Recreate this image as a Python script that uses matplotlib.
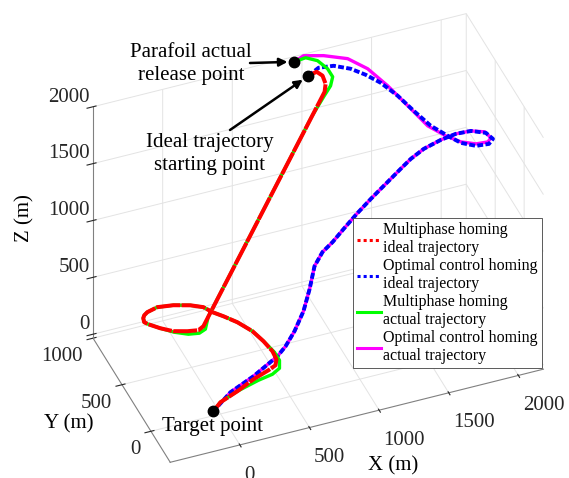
import numpy as np
import matplotlib
matplotlib.use('Agg')
import matplotlib.pyplot as plt
from mpl_toolkits.mplot3d import proj3d
from matplotlib.lines import Line2D

plt.rcParams['font.family'] = ['Liberation Serif', 'DejaVu Serif']
plt.rcParams['grid.color'] = '#e3e3e3'
plt.rcParams['grid.linewidth'] = 0.7

# ---------------- data (m) ----------------
red_x = [959, 1027, 1052, 1044, 1013, 85, 43, -23, -103, -166, -219, -234, -222, -202, -169,
         -82, 33, 146, 226, 268, 326, 396, 463, 499, 522, 520, 493, 434, 310, 169, 25, -50]
red_y = [788, 812, 769, 697, 639, 501, 486, 518, 569, 644, 724, 756, 802, 832, 859,
         896, 895, 874, 841, 785, 734, 662, 563, 459, 360, 285, 238, 216, 177, 116, 63, 4]
red_z = [2000, 1995, 1988, 1978, 1965, 300, 290, 275, 258, 242, 228, 224, 218, 213, 208,
         195, 178, 160, 146, 135, 123, 108, 90, 76, 62, 53, 47, 40, 30, 18, 8, 0]

green_x = [926, 1013, 1079, 1116, 1123, 1083, 1009, 917, 122, 86, 38, -28, -101, -166, -219,
           -234, -222, -202, -169, -82, 33, 146, 226, 268, 326, 396, 463, 499, 531, 535, 507,
           443, 336, 169, 25, -50]
green_y = [951, 968, 920, 835, 765, 705, 647, 625, 507, 469, 458, 489, 557, 644, 724,
           756, 802, 832, 859, 896, 895, 874, 841, 785, 734, 662, 563, 459, 346, 269, 202,
           170, 155, 116, 63, 4]
green_z = [2000, 1995, 1988, 1975, 1960, 1942, 1915, 1793, 367, 300, 288, 274, 258, 242, 228,
           224, 218, 213, 208, 195, 178, 160, 146, 135, 123, 108, 90, 76, 62, 53, 46,
           39, 31, 18, 8, 0]

blue_x = [959, 1057, 1165, 1268, 1349, 1425, 1498, 1559, 1629, 1716, 1783, 1878, 1978, 2031,
          2019, 1942, 1846, 1740, 1615, 1511, 1425, 1342, 1258, 1177, 1060, 952, 862, 787,
          718, 660, 607, 553, 505, 460, 282, 107, -50]
blue_y = [788, 850, 849, 803, 739, 661, 543, 414, 288, 203, 139, 108, 122, 181,
          274, 348, 377, 382, 375, 349, 317, 289, 261, 238, 200, 165, 138, 132,
          104, 50, 28, 53, 92, 124, 110, 88, 4]
blue_z = [2000, 1990, 1975, 1955, 1930, 1900, 1860, 1815, 1765, 1720, 1690, 1660, 1635, 1615,
          1595, 1575, 1555, 1530, 1495, 1460, 1425, 1385, 1345, 1300, 1235, 1165, 1100, 1040,
          960, 820, 660, 480, 330, 230, 120, 50, 0]

mag_x = [926, 1007, 1136, 1281, 1377, 1452, 1522, 1599, 1699, 1787, 1886, 1979, 2022, 2017,
         1942, 1846, 1740, 1615, 1511, 1425, 1342, 1258, 1177, 1060, 952, 862, 787, 718,
         660, 607, 553, 505, 460, 282, 107, -50]
mag_y = [951, 989, 953, 886, 771, 607, 427, 268, 196, 148, 126, 143, 195, 286,
         348, 377, 382, 375, 349, 317, 289, 261, 238, 200, 165, 138, 132, 104,
         50, 28, 53, 92, 124, 110, 88, 4]
mag_z = [2000, 1997, 1988, 1972, 1948, 1910, 1860, 1790, 1730, 1690, 1660, 1635, 1615, 1595,
         1575, 1555, 1530, 1495, 1460, 1425, 1385, 1345, 1300, 1235, 1165, 1100, 1040, 960,
         820, 660, 480, 330, 230, 120, 50, 0]

release_pt = (926, 951, 2000)
ideal_start_pt = (959, 788, 2000)
target_pt = (-50, 4, 0)

xticks = [0, 500, 1000, 1500, 2000]
yticks = [0, 500, 1000]
zticks = [0, 500, 1000, 1500, 2000]
xlim = (-500, 2180)
ylim = (-333, 1000)
zlim = (-35, 2000)

legend_labels = ['Multiphase homing\nideal trajectory',
                 'Optimal control homing\nideal trajectory',
                 'Multiphase homing\nactual trajectory',
                 'Optimal control homing\nactual trajectory']

# ---------------- figure ----------------
W, H = 569, 478
fig = plt.figure(figsize=(W / 100, H / 100), dpi=100)
ax = fig.add_axes([0.1, 0.1, 0.6, 0.6 * W / H], projection='3d')
ax.set_proj_type('ortho')
ax.view_init(elev=39.3, azim=-111.5)
ax.set_xlim(xlim); ax.set_ylim(ylim); ax.set_zlim(zlim)
ax.set_box_aspect(((xlim[1] - xlim[0]) * 0.1494,
                   (ylim[1] - ylim[0]) * 0.1577,
                   (zlim[1] - zlim[0]) * 0.1467))
ax.computed_zorder = False

for axis in (ax.xaxis, ax.yaxis, ax.zaxis):
    axis.set_pane_color((1, 1, 1, 0))
    axis.pane.set_edgecolor('#e3e3e3')
    axis.line.set_color('#808080')
    axis.line.set_linewidth(0.8)
ax.set_xticks(xticks); ax.set_yticks(yticks); ax.set_zticks(zticks)
ax.tick_params(labelsize=15, colors='#262626')
ax.tick_params(axis='y', pad=-2.5)
ax.tick_params(axis='z', pad=-6.5)
ax.grid(True)

ax.plot(mag_x, mag_y, mag_z, color='#ff00ff', lw=2.4, zorder=1, solid_joinstyle='round')
ax.plot(blue_x, blue_y, blue_z, color='#0000ff', lw=2.8, ls=(0, (1.5, 0.6)), zorder=2)
ax.plot(green_x, green_y, green_z, color='#00ff00', lw=2.4, zorder=3, solid_joinstyle='round')
ax.plot(red_x, red_y, red_z, color='#ff0000', lw=2.9, ls=(0, (6, 0.3)), zorder=4)
for p in (release_pt, ideal_start_pt, target_pt):
    ax.plot([p[0]], [p[1]], [p[2]], 'o', color='k', ms=7.5, zorder=6)

ax.set_xlabel('X (m)', fontsize=15, labelpad=7)
ax.set_ylabel('Y (m)', fontsize=15, labelpad=-1)
ax.set_zlabel('Z (m)', fontsize=15, labelpad=9)
ax.xaxis.set_rotate_label(False)
ax.yaxis.set_rotate_label(False)
ax.zaxis.set_rotate_label(False)
ax.zaxis.label.set_rotation(90)
ax.xaxis._axinfo['label']['ha'] = 'left'
ax.yaxis._axinfo['label']['ha'] = 'right'
ax.yaxis._axinfo['label']['va'] = 'bottom'

# ---- fit the axes box to the reference layout ----
fig.canvas.draw()
M = ax.get_proj()
def to_frac(xs, ys, zs):
    x2, y2, _ = proj3d.proj_transform(np.asarray(xs, float), np.asarray(ys, float),
                                      np.asarray(zs, float), M)
    disp = ax.transData.transform(np.column_stack([x2, y2]))
    return ax.transAxes.inverted().transform(disp)

cx = [xlim[0], xlim[1], xlim[0], xlim[0], xlim[1]]
cy = [ylim[0], ylim[0], ylim[1], ylim[1], ylim[1]]
cz = [zlim[0], zlim[0], zlim[0], zlim[1], zlim[1]]
tgt = np.array([[170, 463], [543, 367], [93, 339], [93, 108], [467, 13]], float)
fr = to_frac(cx, cy, cz)
A, b = [], []
for (fx, fy), (px, py) in zip(fr, tgt):
    A.append([1, 0, fx]); b.append(px)
    A.append([0, 1, fy]); b.append(H - py)
x0, y0, S = np.linalg.lstsq(np.array(A), np.array(b), rcond=None)[0]
ax.set_position([x0 / W, y0 / H, S / W, S / H])

for lab in ax.get_xticklabels():
    lab.set_ha('left')
for lab in ax.get_yticklabels():
    lab.set_ha('right')
for lab in ax.get_zticklabels():
    lab.set_ha('right'); lab.set_va('bottom')

# ---- annotations ----
def proj2d(p):
    x2, y2, _ = proj3d.proj_transform(np.array([p[0]], float), np.array([p[1]], float),
                                      np.array([p[2]], float), M)
    return (x2[0], y2[0])

fig.text(191 / W, 1 - 64 / H, 'Parafoil actual\nrelease point', ha='center', va='center',
         fontsize=15, linespacing=1.25)
fig.text(210 / W, 1 - 154 / H, 'Ideal trajectory\nstarting point', ha='center', va='center',
         fontsize=15, linespacing=1.25)
fig.text(212 / W, 1 - 427 / H, 'Target point', ha='center', va='center', fontsize=15)
arrow = dict(arrowstyle='-|>', color='k', lw=1.8, shrinkA=0, shrinkB=5, mutation_scale=12)
ax.annotate('', xy=proj2d(release_pt), xycoords='data', xytext=(250, H - 63),
            textcoords='figure pixels', arrowprops=arrow)
ax.annotate('', xy=proj2d(ideal_start_pt), xycoords='data', xytext=(230, H - 130),
            textcoords='figure pixels', arrowprops=arrow)

# ---- legend ----
handles = [Line2D([], [], color='#ff0000', lw=2.2, ls=(0, (1, 1))),
           Line2D([], [], color='#0000ff', lw=2.2, ls=(0, (1, 1))),
           Line2D([], [], color='#00ff00', lw=2.2),
           Line2D([], [], color='#ff00ff', lw=2.2)]
leg = fig.legend(handles, legend_labels, loc='upper left',
                 bbox_to_anchor=(353 / W, 1 - 218 / H), prop={'size': 11.5},
                 frameon=True, fancybox=False, edgecolor='#404040', framealpha=1,
                 borderpad=0.25, handlelength=1.5, handletextpad=0.15, labelspacing=0.1,
                 borderaxespad=0)
leg.get_frame().set_linewidth(0.6)

fig.savefig('out.png', dpi=100)
